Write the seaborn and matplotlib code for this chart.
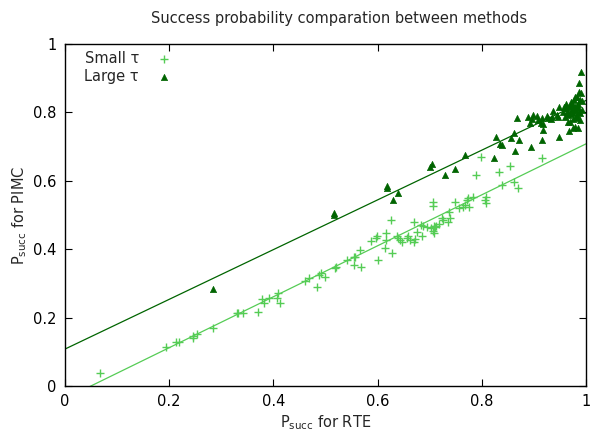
import matplotlib
matplotlib.use("Agg")
import matplotlib.pyplot as plt
import seaborn as sns
import pandas as pd
import numpy as np

# ---- data ----
small_x = [0.067, 0.193, 0.213, 0.218, 0.245, 0.245, 0.253, 0.285, 0.330, 0.333, 0.342,
           0.371, 0.379, 0.381, 0.392, 0.406, 0.408, 0.413, 0.461, 0.468, 0.483, 0.488,
           0.491, 0.499, 0.518, 0.520, 0.541, 0.555, 0.557, 0.555, 0.569, 0.566, 0.587,
           0.597, 0.598, 0.601, 0.614, 0.616, 0.617, 0.625, 0.627, 0.638, 0.640, 0.643,
           0.646, 0.656, 0.659, 0.662, 0.669, 0.672, 0.670, 0.675, 0.685, 0.683, 0.688,
           0.695, 0.707, 0.707, 0.708, 0.702, 0.710, 0.706, 0.708, 0.713, 0.718, 0.723,
           0.726, 0.736, 0.738, 0.739, 0.749, 0.757, 0.763, 0.768, 0.772, 0.776, 0.784,
           0.774, 0.806, 0.808, 0.808, 0.789, 0.798, 0.833, 0.839, 0.854, 0.861, 0.870,
           0.915]
small_y = [0.039, 0.114, 0.129, 0.128, 0.147, 0.141, 0.151, 0.169, 0.214, 0.214, 0.214,
           0.216, 0.254, 0.244, 0.258, 0.258, 0.271, 0.242, 0.308, 0.316, 0.289, 0.325,
           0.331, 0.320, 0.344, 0.349, 0.368, 0.376, 0.378, 0.354, 0.349, 0.398, 0.425,
           0.432, 0.439, 0.368, 0.403, 0.448, 0.427, 0.485, 0.388, 0.439, 0.432, 0.427,
           0.422, 0.432, 0.439, 0.427, 0.480, 0.429, 0.422, 0.449, 0.439, 0.471, 0.468,
           0.464, 0.539, 0.526, 0.468, 0.461, 0.464, 0.454, 0.446, 0.468, 0.474, 0.490,
           0.485, 0.480, 0.510, 0.490, 0.539, 0.520, 0.524, 0.529, 0.544, 0.524, 0.554,
           0.549, 0.544, 0.552, 0.534, 0.617, 0.670, 0.625, 0.588, 0.643, 0.597, 0.580,
           0.668]

large_x = [0.284, 0.516, 0.516, 0.618, 0.618, 0.640, 0.630, 0.704, 0.701, 0.729, 0.749,
           0.768, 0.823, 0.827, 0.835, 0.838, 0.857, 0.862, 0.864, 0.872, 0.867, 0.889,
           0.893, 0.894, 0.896, 0.899, 0.905, 0.908, 0.913, 0.915, 0.915, 0.917, 0.918,
           0.926, 0.928, 0.932, 0.935, 0.937, 0.945, 0.947, 0.948, 0.949, 0.957, 0.960,
           0.960, 0.963, 0.966, 0.966, 0.968, 0.969, 0.969, 0.973, 0.973, 0.974, 0.976,
           0.976, 0.976, 0.977, 0.979, 0.979, 0.981, 0.982, 0.982, 0.983, 0.985, 0.985,
           0.987, 0.987, 0.988, 0.988, 0.988, 0.990, 0.990, 0.992, 0.992, 0.955, 0.962,
           0.971, 0.978, 0.984, 0.986, 0.980, 0.970, 0.964, 0.975]
large_y = [0.284, 0.506, 0.500, 0.585, 0.579, 0.563, 0.544, 0.649, 0.639, 0.617, 0.634,
           0.675, 0.666, 0.729, 0.709, 0.706, 0.724, 0.739, 0.688, 0.719, 0.783, 0.787,
           0.768, 0.700, 0.780, 0.792, 0.789, 0.778, 0.770, 0.783, 0.719, 0.749, 0.766,
           0.789, 0.783, 0.780, 0.787, 0.805, 0.792, 0.786, 0.729, 0.815, 0.815, 0.812,
           0.786, 0.802, 0.792, 0.773, 0.747, 0.819, 0.773, 0.809, 0.807, 0.826, 0.799,
           0.780, 0.754, 0.836, 0.817, 0.758, 0.807, 0.792, 0.846, 0.783, 0.826, 0.754,
           0.861, 0.887, 0.836, 0.778, 0.797, 0.856, 0.919, 0.807, 0.832, 0.800, 0.825,
           0.830, 0.845, 0.815, 0.800, 0.790, 0.795, 0.812, 0.820]

# fitted lines (intercept, slope)
small_fit = [-0.037, 0.745]
large_fit = [0.108, 0.727]
fit_x = [0.0, 1.0]

title = "Success probability comparation between methods"
xlabel = r"P$_{\mathrm{succ}}$ for RTE"
ylabel = r"P$_{\mathrm{succ}}$ for PIMC"
ticks = [0, 0.2, 0.4, 0.6, 0.8, 1]
tick_labels = ["0", "0.2", "0.4", "0.6", "0.8", "1"]

light = "#55cc55"
dark = "#006400"

# ---- plot ----
sns.set_theme(style="ticks")
plt.rcParams["font.family"] = ["DejaVu Sans"]
plt.rcParams["mathtext.fontset"] = "dejavusans"

fig = plt.figure(figsize=(5.94, 4.32), dpi=100)
ax = fig.add_axes([65/594, 46/432, 521/594, 342/432])

df_s = pd.DataFrame({"x": small_x, "y": small_y})
df_l = pd.DataFrame({"x": large_x, "y": large_y})

fx = np.array(fit_x)
df_fs = pd.DataFrame({"x": fx, "y": small_fit[0] + small_fit[1] * fx})
df_fl = pd.DataFrame({"x": fx, "y": large_fit[0] + large_fit[1] * fx})

sns.lineplot(data=df_fl, x="x", y="y", ax=ax, color=dark, linewidth=0.9, legend=False)
sns.lineplot(data=df_fs, x="x", y="y", ax=ax, color=light, linewidth=0.9, legend=False)

sns.scatterplot(data=df_s, x="x", y="y", ax=ax, marker="+", s=40, color=light,
                linewidth=1.0, label="Small τ")
sns.scatterplot(data=df_l, x="x", y="y", ax=ax, marker="^", s=20, color=dark,
                edgecolor=dark, linewidth=0.5, label="Large τ")

ax.set_xlim(0, 1)
ax.set_ylim(0, 1)
ax.set_xticks(ticks)
ax.set_xticklabels(tick_labels)
ax.set_yticks(ticks)
ax.set_yticklabels(tick_labels)
ax.tick_params(direction="in", length=5, width=0.8, top=True, right=True,
               labelsize=10.5, colors="black", pad=6)
for sp in ax.spines.values():
    sp.set_visible(True)
    sp.set_linewidth(1.0)
    sp.set_color("black")

ax.set_xlabel(xlabel, fontsize=10.5, labelpad=3)
ax.set_ylabel(ylabel, fontsize=10.5, labelpad=3)
fig.text(339/594, 1 - 18/432, title, ha="center", va="center", fontsize=10.5)

leg = ax.legend(loc="upper left", bbox_to_anchor=(0.015, 1.015), frameon=False,
                markerfirst=False, fontsize=10.5, handletextpad=1.1,
                labelspacing=0.25, borderpad=0.3, handlelength=1.2)

fig.savefig("out.png", dpi=100)
